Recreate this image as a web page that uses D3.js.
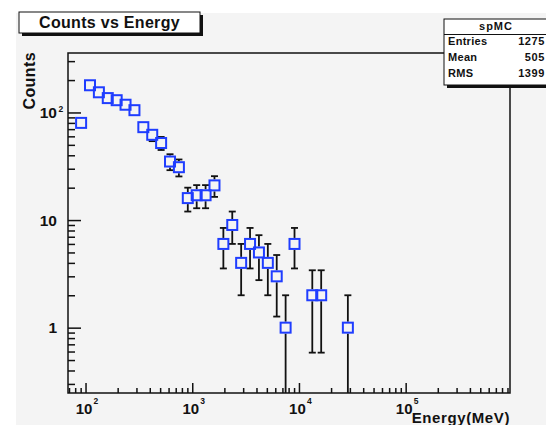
<!DOCTYPE html>
<html>
<head>
<meta charset="utf-8">
<script src="https://cdn.jsdelivr.net/npm/d3@7"></script>
<style>
  html, body { margin: 0; padding: 0; background: #ffffff; }
  svg { display: block; font-family: "Liberation Sans", Arial, Helvetica, sans-serif; }
</style>
</head>
<body>
<svg id="chart" width="546" height="425"></svg>
<script>
// Histogram "spMC": counts per logarithmic energy bin (bin centres in MeV)
const energyMeV = [90.9, 110.1, 133.4, 161.6, 195.8, 237.1, 287.3, 348.1, 421.7, 510.9,
                   619.0, 749.9, 908.5, 1100.6, 1333.5, 1615.5, 1957.2, 2371.4, 2872.9, 3480.6,
                   4216.9, 5108.8, 6189.4, 7498.9, 9085.2, 13335, 16156, 28730];
const counts = [80, 179, 154, 136, 130, 118, 105, 73, 62, 52,
                35, 31, 16, 17, 17, 21, 6, 9, 4, 6,
                5, 4, 3, 1, 6, 2, 2, 1];

// Axis ticks and labels
const xMajorTicks = [1e2, 1e3, 1e4, 1e5];
const xTickExp = ["2", "3", "4", "5"];
const xMinorTicks = [70, 80, 90,
  200, 300, 400, 500, 600, 700, 800, 900,
  2000, 3000, 4000, 5000, 6000, 7000, 8000, 9000,
  2e4, 3e4, 4e4, 5e4, 6e4, 7e4, 8e4, 9e4,
  2e5, 3e5, 4e5, 5e5, 6e5, 7e5, 8e5, 9e5];
const yMajorTicks = [1, 10, 100];
const yTickBase = ["1", "10", "10"];
const yTickExp = ["", "", "2"];
const yMinorTicks = [0.3, 0.4, 0.5, 0.6, 0.7, 0.8, 0.9,
  2, 3, 4, 5, 6, 7, 8, 9,
  20, 30, 40, 50, 60, 70, 80, 90,
  200, 300];

// Statistics box
const statsTitle = "spMC";
const statsNames = ["Entries", "Mean", "RMS"];
const statsValues = ["1275", "505", "1399"];

const titleText = "Counts vs Energy";
const xTitle = "Energy(MeV)";
const yTitle = "Counts";

const svg = d3.select("#chart");
const frame = { left: 68, right: 510, top: 53, bottom: 393 };

// canvas background
svg.append("rect").attr("x", 16).attr("y", 13).attr("width", 530).attr("height", 412)
  .attr("fill", "#f4f4f4");

const x = d3.scaleLog().domain([68.5, 950000]).range([frame.left, frame.right]);
const y = d3.scaleLog().domain([0.247, 357]).range([frame.bottom, frame.top]);

// clip path for marks inside the frame
svg.append("clipPath").attr("id", "plotClip").append("rect")
  .attr("x", frame.left).attr("y", frame.top)
  .attr("width", frame.right - frame.left).attr("height", frame.bottom - frame.top);

// frame
svg.append("rect").attr("x", frame.left).attr("y", frame.top)
  .attr("width", frame.right - frame.left).attr("height", frame.bottom - frame.top)
  .attr("fill", "none").attr("stroke", "#111").attr("stroke-width", 1.5);

// axis ticks (pointing into the frame)
function tickAxis(gen, tx, ty) {
  const g = svg.append("g").attr("transform", `translate(${tx},${ty})`).call(gen);
  g.select(".domain").remove();
  g.selectAll("text").remove();
  g.selectAll("line").attr("stroke", "#111").attr("stroke-width", 1.5);
  return g;
}
tickAxis(d3.axisLeft(y).tickValues(yMinorTicks).tickSize(-7), frame.left, 0);
tickAxis(d3.axisLeft(y).tickValues(yMajorTicks).tickSize(-13), frame.left, 0);
tickAxis(d3.axisBottom(x).tickValues(xMinorTicks).tickSize(-5), 0, frame.bottom);
tickAxis(d3.axisBottom(x).tickValues(xMajorTicks).tickSize(-10), 0, frame.bottom);

// y tick labels
const yLab = svg.append("g").attr("font-weight", "bold").attr("fill", "#111");
yMajorTicks.forEach((v, i) => {
  yLab.append("text").attr("x", 57).attr("y", y(v) + 5.5)
    .attr("text-anchor", "end").attr("font-size", 15.5).text(yTickBase[i]);
  if (yTickExp[i]) {
    yLab.append("text").attr("x", 58.5).attr("y", y(v) - 0.5)
      .attr("font-size", 8.5).text(yTickExp[i]);
  }
});

// x tick labels
const xLab = svg.append("g").attr("font-weight", "bold").attr("fill", "#111");
xMajorTicks.forEach((v, i) => {
  xLab.append("text").attr("x", x(v) - 1.5).attr("y", 414)
    .attr("text-anchor", "middle").attr("font-size", 15).text("10");
  xLab.append("text").attr("x", x(v) + 8).attr("y", 404)
    .attr("font-size", 8.5).text(xTickExp[i]);
});

// axis titles
svg.append("text").attr("x", frame.right).attr("y", 423)
  .attr("text-anchor", "end").attr("font-weight", "bold").attr("font-size", 15)
  .attr("letter-spacing", 0.6).attr("fill", "#111").text(xTitle);
svg.append("text").attr("transform", `translate(35,${frame.top - 1}) rotate(-90)`)
  .attr("text-anchor", "end").attr("font-weight", "bold").attr("font-size", 16)
  .attr("letter-spacing", 0.4).attr("fill", "#111").text(yTitle);

// error bars (sqrt(N)) and open square markers
const half = 6;
const marks = svg.append("g").attr("clip-path", "url(#plotClip)");
const pts = energyMeV.map((e, i) => ({ e, c: counts[i], err: Math.sqrt(counts[i]) }));
const eb = marks.append("g").attr("stroke", "#111").attr("stroke-width", 1.8);
pts.forEach(p => {
  const cx = x(p.e), cy = y(p.c);
  const yHi = y(p.c + p.err);
  const lo = p.c - p.err;
  const yLo = lo > 0 ? y(lo) : frame.bottom + 5;
  if (yHi < cy - half) {
    eb.append("line").attr("x1", cx).attr("x2", cx).attr("y1", yHi).attr("y2", cy - half);
    eb.append("line").attr("x1", cx - 3.5).attr("x2", cx + 3.5).attr("y1", yHi).attr("y2", yHi);
  }
  if (yLo > cy + half) {
    eb.append("line").attr("x1", cx).attr("x2", cx).attr("y1", cy + half).attr("y2", yLo);
    if (lo > 0) eb.append("line").attr("x1", cx - 3.5).attr("x2", cx + 3.5).attr("y1", yLo).attr("y2", yLo);
  }
});
marks.append("g").selectAll("rect").data(pts).join("rect")
  .attr("x", d => x(d.e) - 5).attr("y", d => y(d.c) - 5)
  .attr("width", 10).attr("height", 10)
  .attr("fill", "none").attr("stroke", "#1f3dff").attr("stroke-width", 2);

// title box with shadow
const tb = { x: 19, y: 12, w: 181, h: 21 };
svg.append("rect").attr("x", tb.x + 3).attr("y", tb.y + 3).attr("width", tb.w).attr("height", tb.h).attr("fill", "#111");
svg.append("rect").attr("x", tb.x).attr("y", tb.y).attr("width", tb.w).attr("height", tb.h)
  .attr("fill", "#ffffff").attr("stroke", "#111").attr("stroke-width", 1);
svg.append("text").attr("x", tb.x + tb.w / 2).attr("y", tb.y + 16)
  .attr("text-anchor", "middle").attr("font-weight", "bold").attr("font-size", 16)
  .attr("letter-spacing", 0.3).attr("fill", "#111").text(titleText);

// statistics box with shadow
const sb = { x: 444, y: 19, w: 110, h: 66 };
svg.append("rect").attr("x", sb.x + 3).attr("y", sb.y + 3).attr("width", sb.w).attr("height", sb.h).attr("fill", "#111");
svg.append("rect").attr("x", sb.x).attr("y", sb.y).attr("width", sb.w).attr("height", sb.h)
  .attr("fill", "#ffffff").attr("stroke", "#111").attr("stroke-width", 1);
svg.append("line").attr("x1", sb.x).attr("x2", sb.x + sb.w).attr("y1", 34.5).attr("y2", 34.5)
  .attr("stroke", "#111").attr("stroke-width", 1);
svg.append("text").attr("x", 496).attr("y", 29.5).attr("text-anchor", "middle")
  .attr("font-weight", "bold").attr("font-size", 11).attr("letter-spacing", 1)
  .attr("fill", "#111").text(statsTitle);
const rowY = [45, 61, 77];
statsNames.forEach((n, i) => {
  svg.append("text").attr("x", 448).attr("y", rowY[i]).attr("font-weight", "bold")
    .attr("font-size", 11).attr("letter-spacing", 0.3).attr("fill", "#111").text(n);
  svg.append("text").attr("x", 545).attr("y", rowY[i]).attr("text-anchor", "end")
    .attr("font-weight", "bold").attr("font-size", 11).attr("letter-spacing", 0.6)
    .attr("fill", "#111").text(statsValues[i]);
});
</script>
</body>
</html>
